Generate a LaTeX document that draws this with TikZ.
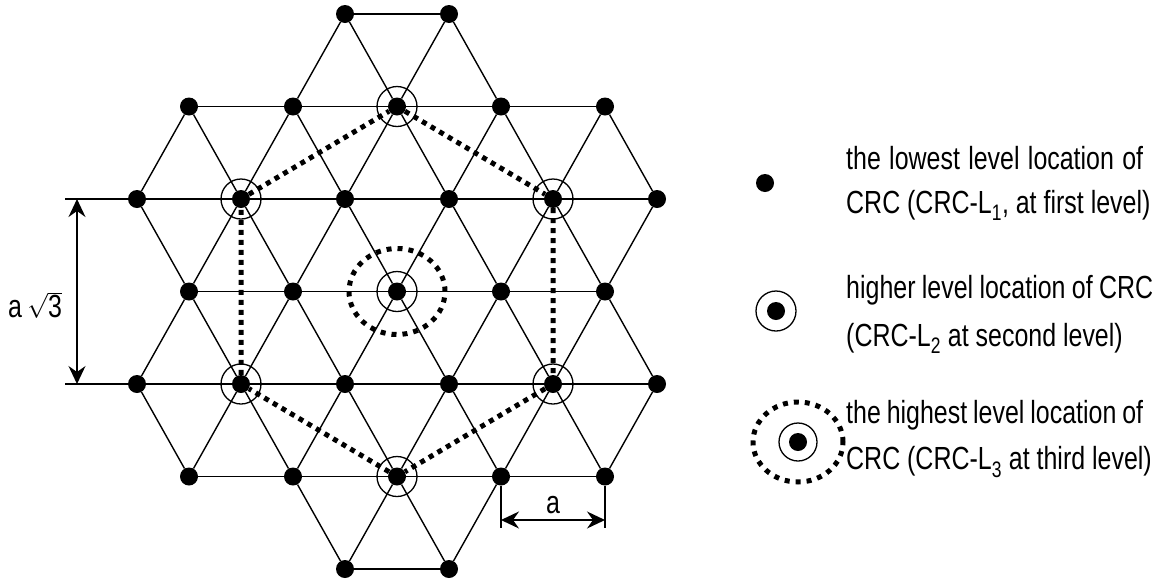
\documentclass[tikz,border=0pt]{standalone}
\usepackage{fontspec}
\setmainfont{Liberation Sans}[FakeStretch=0.78]
\usetikzlibrary{arrows.meta}
\begin{document}
\begin{tikzpicture}[x=1pt,y=-1pt,
  dot/.style={circle, fill=black, inner sep=0pt, minimum size=18pt},
  lat/.style={line width=1.4pt},
  ring/.style={line width=1.3pt},
  hexdot/.style={line width=5pt, dash pattern=on 5pt off 5pt},
  ringdot/.style={line width=5pt, dash pattern=on 5pt off 6pt},
  dimline/.style={line width=1.2pt},
  dimarrow/.style={line width=1.2pt, {Stealth[length=18pt,width=17pt,inset=6pt]}-{Stealth[length=18pt,width=17pt,inset=6pt]}},
  lbl/.style={font=\fontsize{32}{36}\selectfont, inner sep=0pt},
  legtext/.style={lbl, anchor=west}]
\useasboundingbox (0,0) rectangle (1157,579);
% lattice nodes
\foreach \r/\cs in {0/{4,6},1/{1,3,5,7,9},2/{0,2,4,6,8,10},3/{1,3,5,7,9},4/{0,2,4,6,8,10},5/{1,3,5,7,9},6/{4,6}}{
  \foreach \c in \cs {
    \node[dot] (n\r-\c) at ({397+(\c-5)*52},{14+\r*92.5}) {};
  }
}
% horizontal edges
\draw[lat] (n0-4) -- (n0-6);
\draw[lat] (n6-4) -- (n6-6);
\foreach \r in {1,3,5} \draw[lat] (n\r-1) -- (n\r-3) -- (n\r-5) -- (n\r-7) -- (n\r-9);
\foreach \r in {2,4} \draw[lat] (n\r-0) -- (n\r-2) -- (n\r-4) -- (n\r-6) -- (n\r-8) -- (n\r-10);
% diagonal edges
\draw[lat] (n1-3) -- (n0-4) -- (n1-5) -- (n0-6) -- (n1-7);
\draw[lat] (n5-3) -- (n6-4) -- (n5-5) -- (n6-6) -- (n5-7);
\foreach \r/\s in {1/2,3/2,3/4,5/4}{
  \foreach \c in {1,3,5,7,9}{
    \pgfmathtruncatemacro\ca{\c-1}
    \pgfmathtruncatemacro\cb{\c+1}
    \draw[lat] (n\s-\ca) -- (n\r-\c) -- (n\s-\cb);
  }
}
% second level circles
\foreach \n in {n1-5,n2-2,n2-8,n4-2,n4-8,n5-5,n3-5}
  \draw[ring] (\n) circle[radius=20pt];
% dotted hexagon
\draw[hexdot] (n1-5) -- (n2-8) -- (n4-8) -- (n5-5) -- (n4-2) -- (n2-2) -- (n1-5);
% third level ring
\draw[ringdot] (n3-5) ellipse[x radius=48pt, y radius=43pt];
% vertical dimension
\coordinate (extT) at (65,199);
\coordinate (extB) at (65,384);
\coordinate (arT) at (77,199);
\coordinate (arB) at (77,384);
\draw[dimline] (extT) -- (n2-0);
\draw[dimline] (extB) -- (n4-0);
\draw[dimarrow] (arT) -- (arB);
\node[lbl] (lblsq) at (35,305) {a\,$\sqrt{\mbox{3}}$};
% horizontal dimension
\coordinate (extL) at (501,528);
\coordinate (extR) at (605,528);
\coordinate (arL) at (501,520);
\coordinate (arR) at (605,520);
\draw[dimline] (n5-7) -- (extL);
\draw[dimline] (n5-9) -- (extR);
\draw[dimarrow] (arL) -- (arR);
\node[lbl] (lbla) at (553,505) {a};
% legend
\node[dot] (legA) at (765,183) {};
\node[dot] (legB) at (776,311) {};
\draw[ring] (legB) circle[radius=20pt];
\node[dot] (legC) at (798,442) {};
\draw[ring] (legC) circle[radius=19pt];
\draw[ringdot] (legC) ellipse[x radius=45pt, y radius=40pt];
\node[legtext] (t1) at (846,158) {\makebox[297pt][s]{the lowest level location of}};
\node[legtext] (t2) at (846,205) {CRC (CRC-L\textsubscript{1}, at first level)};
\node[legtext] (t3) at (846,290) {\makebox[307pt][s]{higher level location of CRC}};
\node[legtext] (t4) at (846,338) {(CRC-L\textsubscript{2} at second level)};
\node[legtext] (t5) at (846,415) {\makebox[297pt][s]{the highest level location of}};
\node[legtext] (t6) at (846,462) {CRC (CRC-L\textsubscript{3} at third level)};
\end{tikzpicture}
\end{document}
